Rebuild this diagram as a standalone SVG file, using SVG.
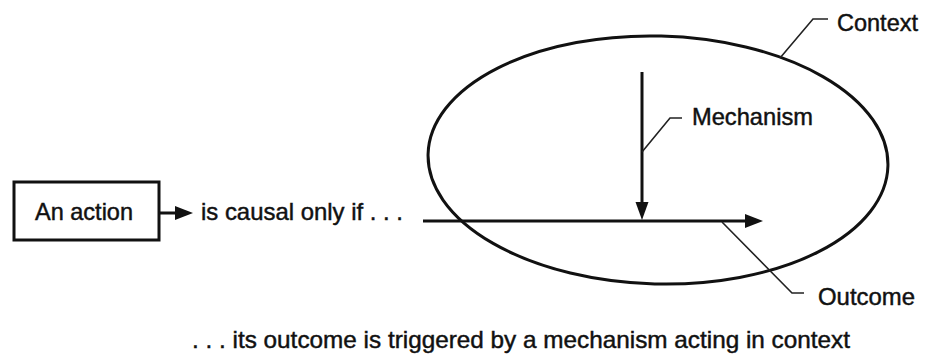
<svg xmlns="http://www.w3.org/2000/svg" width="948" height="356" viewBox="0 0 948 356">
<style>
  text { font-family: "Liberation Sans", Arial, sans-serif; font-size: 24px; fill: #111; stroke: #111; stroke-width: 0.45; }
  .thick { stroke: #111; stroke-width: 3; fill: none; }
  .leader { stroke: #222; stroke-width: 1.6; fill: none; }
  .head { fill: #111; stroke: none; }
</style>
<rect width="948" height="356" fill="#ffffff"/>
<g id="context">
  <ellipse cx="658" cy="160" rx="230" ry="124" class="thick" transform="rotate(1.5 658 160)"/>
  <text x="837" y="31" textLength="81" lengthAdjust="spacingAndGlyphs">Context</text>
</g>
<g id="action">
  <rect x="14" y="182" width="145" height="58" class="thick"/>
  <text x="35" y="220" textLength="98" lengthAdjust="spacingAndGlyphs">An action</text>
</g>
<g id="causal">
  <text x="201" y="220" textLength="202" lengthAdjust="spacingAndGlyphs">is causal only if . . .</text>
</g>
<g id="mechanism">
  <text x="692" y="125" textLength="121" lengthAdjust="spacingAndGlyphs">Mechanism</text>
</g>
<g id="outcome">
  <text x="818" y="305" textLength="97" lengthAdjust="spacingAndGlyphs">Outcome</text>
</g>
<g id="caption">
  <text x="192" y="348" textLength="658" lengthAdjust="spacingAndGlyphs">. . . its outcome is triggered by a mechanism acting in context</text>
</g>
<g id="connectors">
  <line x1="159" y1="213" x2="177" y2="213" class="thick"/>
  <polygon points="175,206 193,213 175,220" class="head"/>
  <line x1="423" y1="221" x2="748" y2="221" class="thick"/>
  <polygon points="745,214 763,221 745,228" class="head"/>
  <line x1="642" y1="72" x2="642" y2="205" class="thick"/>
  <polygon points="635.5,202 648.5,202 642,220" class="head"/>
  <polyline points="642,152 670,118 682,118" class="leader"/>
  <polyline points="780,58 813,19 828,19" class="leader"/>
  <polyline points="722,222 792,293 804,293" class="leader"/>
</g>
</svg>
